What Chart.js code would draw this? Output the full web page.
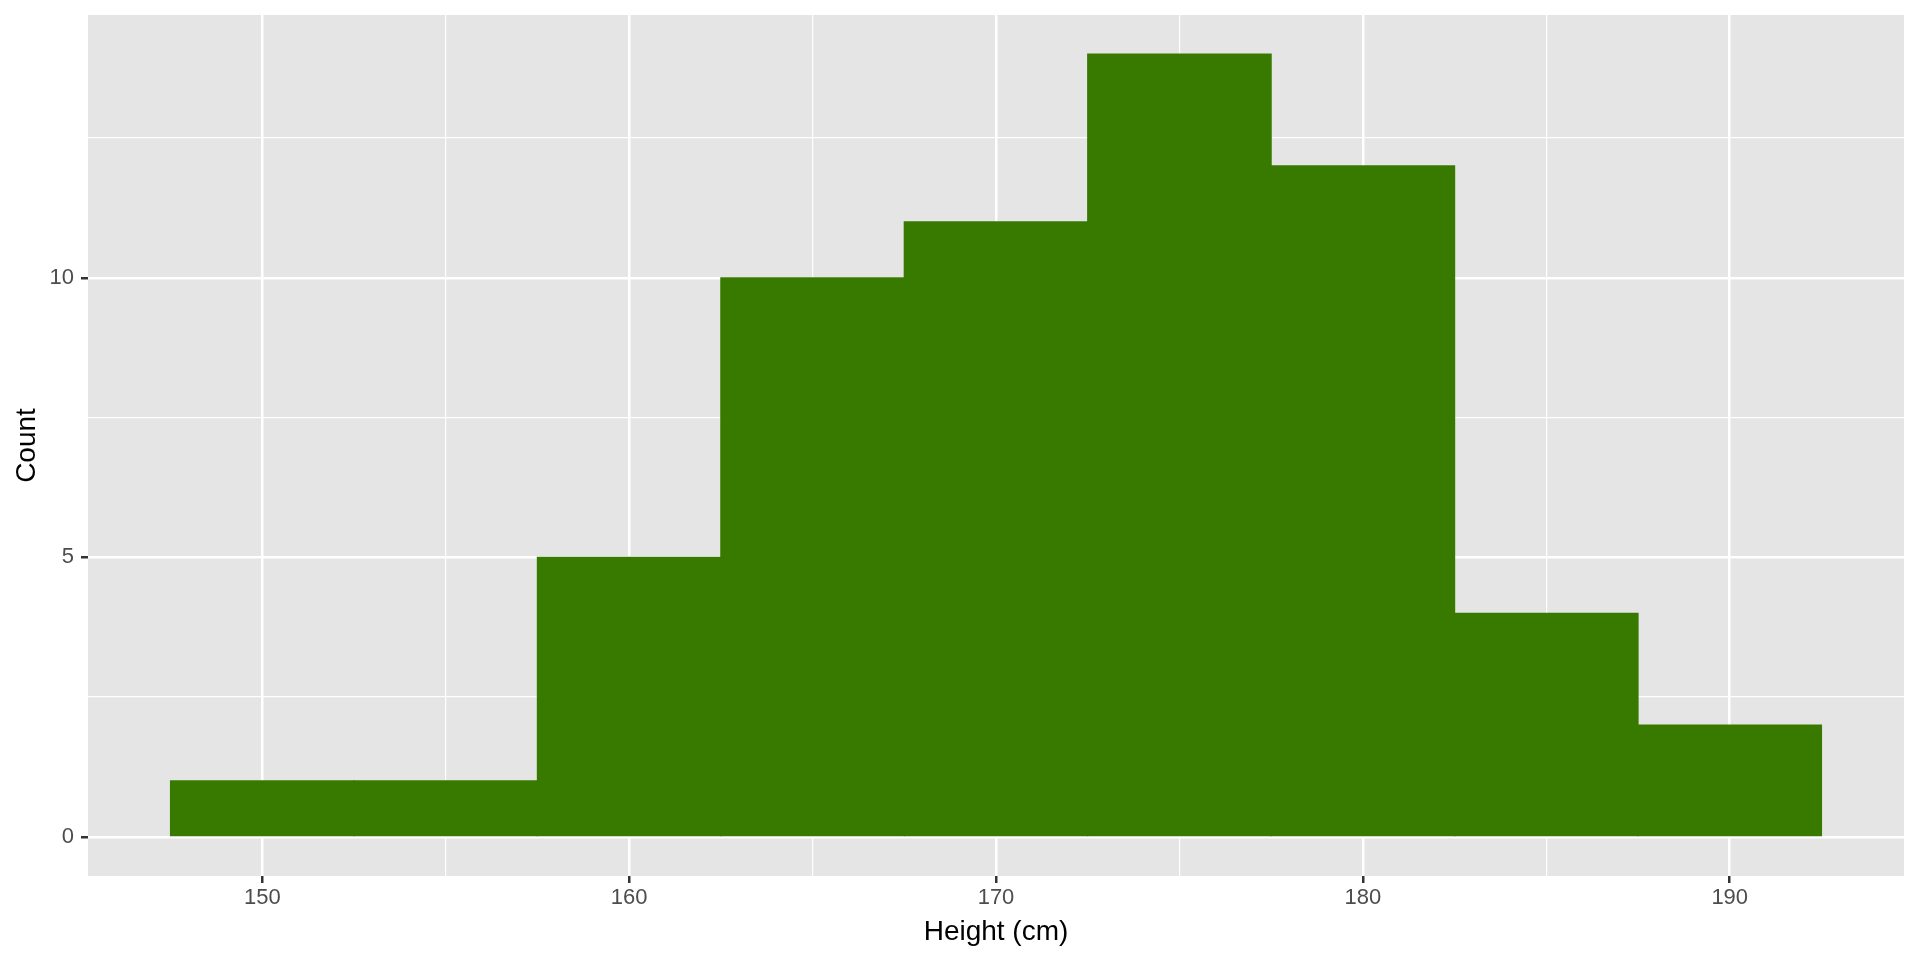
<!DOCTYPE html>
<html lang="en">
<head>
    <meta charset="UTF-8">
    <title>Height histogram</title>
    <script src="https://cdn.jsdelivr.net/npm/chart.js"></script>
    <style>
        body { margin: 0; background: #ffffff; }
    </style>
</head>
<body>
    <canvas id="histChart" width="1920" height="960"></canvas>

    <script>
        // bin centres (width 5 cm) and counts
        const binCenters = [150, 155, 160, 165, 170, 175, 180, 185, 190];
        const counts = [1, 1, 5, 10, 11, 14, 12, 4, 2];

        // grid positions: labelled ones are the majors
        const xGrid = [150, 155, 160, 165, 170, 175, 180, 185, 190];
        const xLabels = [150, 160, 170, 180, 190];
        const yGrid = [0, 2.5, 5, 7.5, 10, 12.5];
        const yLabels = [0, 5, 10];

        const barColor = '#387A00';
        const panelColor = '#E5E5E5';

        // grey panel behind the grid
        const panelBg = {
            id: 'panelBg',
            beforeDraw(chart) {
                const a = chart.chartArea;
                const c = chart.ctx;
                c.save();
                c.fillStyle = panelColor;
                c.fillRect(a.left, a.top, a.right - a.left, a.bottom - a.top);
                c.restore();
            }
        };

        const isMajor = (list, ctx) => !!(ctx.tick && list.includes(ctx.tick.value));

        const tickFont = { family: 'Liberation Sans', size: 22 };
        const titleFont = { family: 'Liberation Sans', size: 28 };

        new Chart(document.getElementById('histChart'), {
            type: 'bar',
            data: {
                datasets: [{
                    data: binCenters.map((x, i) => ({ x: x, y: counts[i] })),
                    backgroundColor: barColor,
                    borderWidth: 0,
                    inflateAmount: 0.6,
                    barPercentage: 1,
                    categoryPercentage: 1
                }]
            },
            options: {
                responsive: false,
                animation: false,
                layout: { padding: { top: 15, right: 16, left: 0, bottom: 0 } },
                plugins: { legend: { display: false }, tooltip: { enabled: false } },
                scales: {
                    x: {
                        type: 'linear',
                        offset: false,
                        min: 145.25,
                        max: 194.75,
                        afterBuildTicks: axis => { axis.ticks = xGrid.map(v => ({ value: v })); },
                        afterFit: axis => {
                            axis.height = 84;
                            axis.paddingLeft = 0;
                            axis.paddingRight = 0;
                        },
                        border: { display: false },
                        grid: {
                            offset: false,
                            color: '#FFFFFF',
                            lineWidth: ctx => isMajor(xLabels, ctx) ? 2.5 : 1.2,
                            tickColor: ctx => isMajor(xLabels, ctx) ? '#333333' : 'rgba(0,0,0,0)',
                            tickWidth: 2.5,
                            tickLength: 7
                        },
                        ticks: {
                            autoSkip: false,
                            maxRotation: 0,
                            padding: 2,
                            color: '#4D4D4D',
                            font: tickFont,
                            callback: v => xLabels.includes(v) ? String(v) : ''
                        },
                        title: {
                            display: true,
                            text: 'Height (cm)',
                            color: '#000000',
                            font: titleFont,
                            padding: { top: 0, bottom: 11 }
                        }
                    },
                    y: {
                        min: -0.7,
                        max: 14.7,
                        afterBuildTicks: axis => { axis.ticks = yGrid.map(v => ({ value: v })); },
                        afterFit: axis => {
                            axis.width = 88;
                            axis.paddingTop = 0;
                            axis.paddingBottom = 0;
                        },
                        border: { display: false },
                        grid: {
                            color: '#FFFFFF',
                            lineWidth: ctx => isMajor(yLabels, ctx) ? 2.5 : 1.2,
                            tickColor: ctx => isMajor(yLabels, ctx) ? '#333333' : 'rgba(0,0,0,0)',
                            tickWidth: 2.5,
                            tickLength: 7
                        },
                        ticks: {
                            autoSkip: false,
                            padding: 7,
                            color: '#4D4D4D',
                            font: tickFont,
                            callback: v => yLabels.includes(v) ? String(v) : ''
                        },
                        title: {
                            display: true,
                            text: 'Count',
                            color: '#000000',
                            font: titleFont,
                            padding: { top: 10, bottom: 0 }
                        }
                    }
                }
            },
            plugins: [panelBg]
        });
    </script>
</body>
</html>
